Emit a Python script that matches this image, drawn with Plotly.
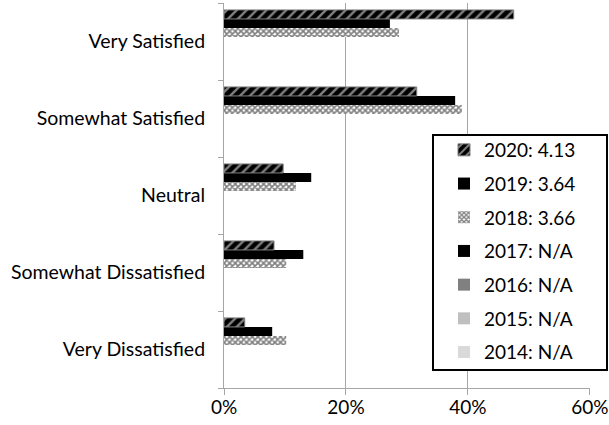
import plotly.graph_objects as go

categories = ["Very Dissatisfied", "Somewhat Dissatisfied", "Neutral", "Somewhat Satisfied", "Very Satisfied"]
series_names = ["2014: N/A", "2015: N/A", "2016: N/A", "2017: N/A", "2018: 3.66", "2019: 3.64", "2020: 4.13"]
v2018 = [10.2, 10.2, 11.8, 39.0, 28.7]
v2019 = [7.9, 13.0, 14.3, 37.9, 27.2]
v2020 = [3.4, 8.2, 9.7, 31.6, 47.5]
empty = [None, None, None, None, None]

values = [empty, empty, empty, empty, v2018, v2019, v2020]
colors = ["#d9d9d9", "#bfbfbf", "#808080", "#000000", "#ffffff", "#000000", "#000000"]

FONT = "Lato"
L, R, T, B = 224, 19, 3, 37
W, H = 609, 425
pw, ph = W - L - R, H - T - B

def px_x(p):
    return (p - L) / pw

def px_y(p):
    return (H - B - p) / ph

fig = go.Figure()
for i, (name, vals, col) in enumerate(zip(series_names, values, colors)):
    marker = dict(color=col, line=dict(width=0))
    if name.startswith("2020"):
        marker = dict(color="#000000", line=dict(color="#7f7f7f", width=1),
                      pattern=dict(shape="/", fgcolor="#ffffff", bgcolor="#000000", size=7, solidity=0.35))
    elif name.startswith("2018"):
        marker = dict(color="#ffffff", line=dict(width=0),
                      pattern=dict(shape="x", fgcolor="#000000", bgcolor="#ffffff", size=4, solidity=0.65))
    fig.add_trace(go.Bar(x=vals, y=categories, orientation="h", name=name,
                         marker=marker, legendgroup=name, legendrank=100 - i))

fig.add_shape(type="rect", xref="paper", yref="paper",
              x0=px_x(433), x1=px_x(607), y0=px_y(370), y1=px_y(135),
              line=dict(color="#000000", width=2), fillcolor="white", layer="above")

fig.update_layout(
    width=W, height=H,
    margin=dict(l=L, r=R, t=T, b=B),
    paper_bgcolor="white", plot_bgcolor="white",
    barmode="group", bargap=0.18, bargroupgap=0,
    font=dict(family=FONT, size=20, color="#000000"),
    showlegend=True,
    legend=dict(x=px_x(444), y=px_y(131), xanchor="left", yanchor="top",
                traceorder="grouped", tracegroupgap=6,
                borderwidth=0, bgcolor="rgba(0,0,0,0)",
                font=dict(family=FONT, size=19)),
    xaxis=dict(range=[0, 60.01], tickvals=[0, 20, 40, 60], ticktext=["0%", "20%", "40%", "60%"],
               showgrid=True, gridcolor="#a6a6a6", gridwidth=1,
               showline=True, linecolor="#a6a6a6", linewidth=1,
               ticks="outside", ticklen=6, tickcolor="#a6a6a6", zeroline=False,
               tickfont=dict(size=19), ticklabelstandoff=-4, automargin=False),
    yaxis=dict(categoryorder="array", categoryarray=categories,
               showline=True, linecolor="#a6a6a6", linewidth=1,
               ticks="outside", ticklen=5, tickcolor="#a6a6a6", tickson="boundaries",
               showgrid=False, tickfont=dict(size=19.5), ticklabelstandoff=14, automargin=False),
)

fig.write_html("out.html", config={"displayModeBar": False},
               post_script="document.body.style.margin='0';document.body.style.padding='0';")
